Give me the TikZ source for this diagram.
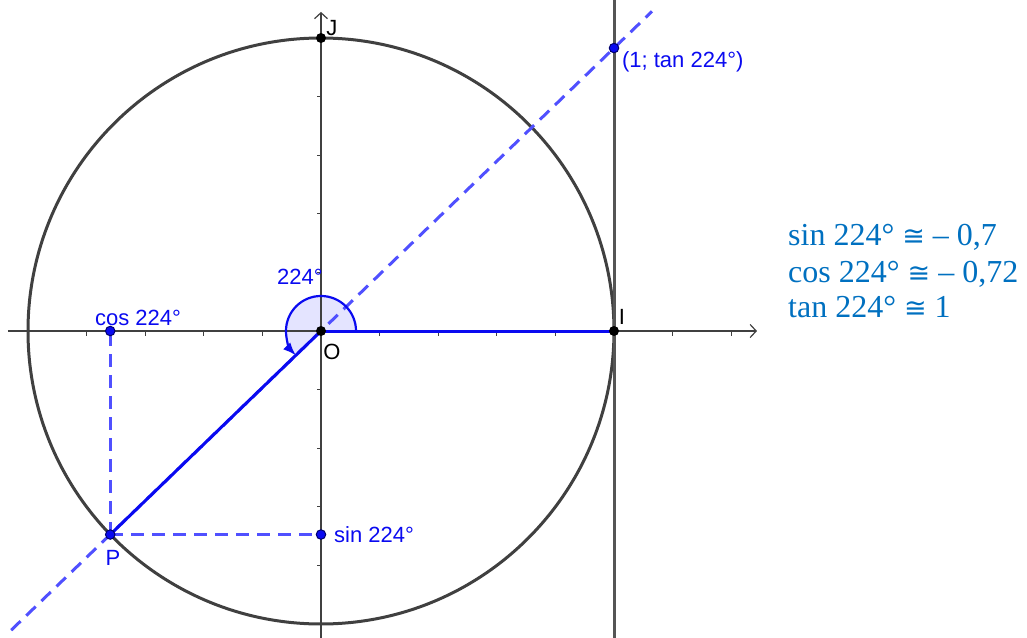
\documentclass[tikz,border=0pt]{standalone}
\usepackage{fontspec}
\setmainfont{Liberation Serif}
\newfontfamily\geo{Liberation Sans}
\newfontfamily\djv{DejaVu Sans}
\usetikzlibrary{arrows.meta}
\definecolor{gblue}{RGB}{10,10,240}
\definecolor{dblue}{RGB}{80,80,255}
\definecolor{lav}{RGB}{228,228,255}
\definecolor{cgray}{RGB}{64,64,64}
\definecolor{lgray}{RGB}{85,85,85}
\definecolor{tblue}{RGB}{0,112,192}
\definecolor{navy}{RGB}{0,0,110}
\newcommand{\approxeqsym}{{\djv\fontsize{27}{30}\selectfont ≅}}
\begin{document}
\begin{tikzpicture}[x=293pt,y=293pt,
  axisline/.style={line width=1.4pt,draw=black!75,-{Straight Barb[length=6pt,width=13pt,line width=1.2pt]}},
  tickline/.style={line width=1pt,draw=black!75},
  circline/.style={line width=3pt,draw=cgray},
  vline/.style={line width=3pt,draw=lgray},
  segline/.style={line width=3pt,draw=gblue},
  dashline/.style={line width=3pt,draw=dblue,dash pattern=on 13pt off 8pt},
  blackdot/.style={circle,fill=black,inner sep=0pt,minimum size=10pt},
  bluedot/.style={circle,fill=gblue,draw=navy,line width=1pt,inner sep=0pt,minimum size=9.5pt},
  geolabel/.style={font=\geo\fontsize{22}{26}\selectfont,inner sep=0pt},
  resline/.style={font=\fontsize{32}{37}\selectfont,text=tblue,inner sep=0pt,anchor=base west}
  ]
\useasboundingbox (-321pt,-306pt) rectangle (706pt,331pt);
% key points
\coordinate (O) at (0,0);
\coordinate (I) at (1,0);
\coordinate (J) at (0,1);
\coordinate (P) at (-0.71934,-0.69466);
\coordinate (C) at (-0.71934,0);
\coordinate (S) at (0,-0.69466);
\coordinate (T) at (1,0.96569);
\coordinate (DL) at (-1.0574,-1.0211);
\coordinate (DR) at (1.1297,1.0909);
\coordinate (XL) at (-1.0683,0);
\coordinate (XR) at (1.488,0);
\coordinate (YB) at (0,-1.05);
\coordinate (YT) at (0,1.089);
\coordinate (VB) at (1,-1.05);
\coordinate (VT) at (1,1.13);
% angle sector
\fill[lav] (O) -- (0.1195,0) arc[start angle=0,end angle=224,radius=0.1195] -- cycle;
% axes
\draw[axisline] (XL) -- (XR);
\draw[axisline] (YB) -- (YT);
\foreach \k in {-5,-4,-3,-2,-1,1,2,3,4,5,6,7}
  \draw[tickline] (\k*0.2,0) -- ++(0,-4.5pt);
\foreach \k in {-5,-4,-3,-2,-1,1,2,3,4,5}
  \draw[tickline] (0,\k*0.2) -- ++(-4.5pt,0);
% circle and tangent line
\draw[circline] (O) circle[radius=1];
\draw[vline] (VB) -- (VT);
% dashed lines
\draw[dashline] (DL) -- (DR);
\draw[dashline] (P) -- (C);
\draw[dashline] (P) -- (S);
% segments
\draw[segline] (O) -- (I);
\draw[segline] (O) -- (P);
% angle arc
\draw[line width=2.2pt,draw=gblue,-{Latex[length=13pt,width=10pt]}] (0.1195,0) arc[start angle=0,end angle=224,radius=0.1195];
% dots
\node[blackdot] (Od) at (O) {};
\node[blackdot] (Id) at (I) {};
\node[blackdot] (Jd) at (J) {};
\node[bluedot] (Pd) at (P) {};
\node[bluedot] (Cd) at (C) {};
\node[bluedot] (Sd) at (S) {};
\node[bluedot] (Td) at (T) {};
% labels
\node[geolabel,text=black] (Ol) at (0.0375,-0.0717) {O};
\node[geolabel,text=black] (Jl) at (0.0375,1.034) {J};
\node[geolabel,text=black] (Il) at (1.0273,0.0478) {I};
\node[geolabel,text=gblue] (Al) at (-0.0717,0.1843) {224°};
\node[geolabel,text=gblue] (Cl) at (-0.6246,0.0444) {cos 224°};
\node[geolabel,text=gblue,anchor=west] (Sl) at (0.0444,-0.6962) {sin 224°};
\node[geolabel,text=gblue] (Pl) at (-0.7099,-0.7747) {P};
\node[geolabel,text=gblue,anchor=west] (Tl) at (1.027,0.918) {(1; tan 224°)};
% results
\node[resline] (r1) at (1.5939,0.2935) {sin 224° \approxeqsym{} – 0,7};
\node[resline] (r2) at (1.5939,0.1672) {cos 224° \approxeqsym{} – 0,72};
\node[resline] (r3) at (1.5939,0.0444) {tan 224° \approxeqsym{} 1};
\end{tikzpicture}
\end{document}
